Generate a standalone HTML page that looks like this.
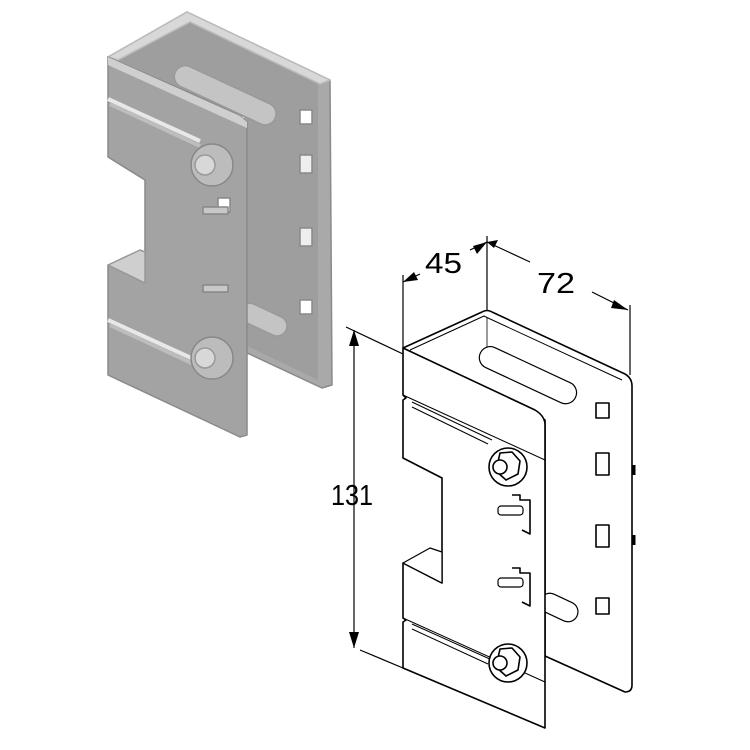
<!DOCTYPE html>
<html><head><style>html,body{margin:0;padding:0;background:#fff;}svg{display:block}</style></head>
<body>
<svg width="750" height="750" viewBox="0 0 750 750" xmlns="http://www.w3.org/2000/svg">
<!-- Left shaded render -->
<g stroke="#8a8a8a" stroke-width="1.5" stroke-linejoin="round">
  <polygon points="187,12 330,80 332,385 322,388 245,352 245,117 108,57" fill="#a9a9a9"/>
  <polygon points="187,18 318,82 318,380 245,345 245,117 118,60" fill="#9e9e9e" stroke="none"/>
  <polygon points="108,57 187,12 330,80 320,84 190,22 118,60" fill="#d8d8d8" stroke="#bbb"/>
  <rect x="180" y="62" width="110" height="22" rx="11" fill="#c4c4c4" transform="rotate(25 180 62)" stroke="#999"/>
  <rect x="245" y="300" width="50" height="20" rx="10" fill="#c4c4c4" transform="rotate(25 245 300)" stroke="#999"/>
  <rect x="300" y="110" width="12" height="14" fill="#fff" stroke="#888"/>
  <rect x="300" y="155" width="12" height="18" fill="#eee" stroke="#888"/>
  <rect x="300" y="228" width="12" height="18" fill="#eee" stroke="#888"/>
  <rect x="300" y="300" width="12" height="14" fill="#fff" stroke="#888"/>
  <!-- front plate -->
  <polygon points="108,57 240,116 247,122 247,435 240,437 108,375 108,265 145,283 145,180 108,157" fill="#a3a3a3"/>
  <polygon points="108,57 240,116 247,122 247,128 108,65" fill="#cfcfcf" stroke="none"/>
  <line x1="108" y1="99" x2="200" y2="141" stroke="#e8e8e8" stroke-width="4"/>
  <line x1="110" y1="104" x2="200" y2="146" stroke="#bdbdbd" stroke-width="4"/>
  <line x1="108" y1="320" x2="200" y2="362" stroke="#e8e8e8" stroke-width="4"/>
  <line x1="110" y1="325" x2="200" y2="367" stroke="#bdbdbd" stroke-width="4"/>
  <polygon points="108,265 140,250 145,252 145,283" fill="#cfcfcf" stroke="#999"/>
  <circle cx="212" cy="165" r="21" fill="#bcbcbc" stroke="#888"/>
  <circle cx="205" cy="165" r="10" fill="#d8d8d8" stroke="#999"/>
  <circle cx="212" cy="358" r="21" fill="#bcbcbc" stroke="#888"/>
  <circle cx="205" cy="358" r="10" fill="#d8d8d8" stroke="#999"/>
  <rect x="218" y="198" width="12" height="14" fill="#fff" stroke="#888"/>
  <rect x="203" y="207" width="25" height="7" fill="#c8c8c8" stroke="#888"/>
  <rect x="203" y="285" width="25" height="7" fill="#c8c8c8" stroke="#888"/>
</g>

<!-- Right line drawing -->
<g fill="#fff" stroke="#000" stroke-width="1.6" stroke-linejoin="round">
  <path d="M403,348 L482,312 Q487,309 492,312 L625,374 Q632,378 632,386 L632,685 Q632,692 625,692 L545,656 L545,420 Z"/>
  <path d="M410,350 L484,316 L488,318 L622,380" fill="none" stroke-width="1"/>
  <line x1="487" y1="318" x2="487" y2="355" stroke-width="0.8"/>
  <rect x="485" y="343" width="105" height="22" rx="11" transform="rotate(25 485 343)" stroke-width="1.2"/>
  <rect x="545" y="590" width="40" height="20" rx="10" transform="rotate(25 545 590)" stroke-width="1.2"/>
  <rect x="596" y="403" width="13" height="15"/>
  <rect x="596" y="453" width="13" height="22"/>
  <rect x="596" y="525" width="13" height="22"/>
  <rect x="596" y="598" width="13" height="16"/>
  <line x1="634" y1="465" x2="634" y2="475" stroke-width="3"/>
  <line x1="634" y1="535" x2="634" y2="545" stroke-width="3"/>
  <path d="M403,348 L535,410 Q545,416 545,425 L545,728 L403,668 L403,622 L406,620 L403,618 L403,563 L442,583 L442,478 L403,458 L403,400 L406,398 L403,395 Z"/>
  <line x1="403" y1="395" x2="545" y2="460" stroke-width="1"/>
  <line x1="403" y1="618" x2="545" y2="682" stroke-width="1"/>
  <polygon points="403,563 430,548 442,552 442,583" stroke-width="1.2"/>
  <line x1="412" y1="402" x2="492" y2="440" stroke-width="1"/>
  <line x1="412" y1="407" x2="488" y2="444" stroke-width="1"/>
  <line x1="412" y1="624" x2="492" y2="660" stroke-width="1"/>
  <line x1="412" y1="629" x2="488" y2="664" stroke-width="1"/>
  <circle cx="508" cy="467" r="19"/>
  <polygon points="500,453 512,452 520,461 518,474 506,480 496,471"/>
  <circle cx="500" cy="467" r="7"/>
  <circle cx="508" cy="663" r="19"/>
  <polygon points="500,649 512,648 520,657 518,670 506,676 496,667"/>
  <circle cx="500" cy="663" r="7"/>
  <path d="M512,495 L520,495 L520,500 L530,500 L530,534 L522,530" fill="none"/>
  <rect x="498" y="506" width="25" height="9" rx="3" stroke-width="1.2"/>
  <path d="M512,568 L520,568 L520,573 L530,573 L530,606 L522,602" fill="none"/>
  <rect x="498" y="578" width="25" height="9" rx="3" stroke-width="1.2"/>
</g>

<g stroke="#000" stroke-width="1.2" fill="none">
  <line x1="346" y1="327" x2="403" y2="354"/>
  <line x1="360" y1="650" x2="403" y2="668"/>
  <line x1="354" y1="330" x2="354" y2="648"/>
  <line x1="403" y1="275" x2="403" y2="348"/>
  <line x1="487" y1="236" x2="487" y2="310"/>
  <line x1="403" y1="282" x2="420" y2="274"/>
  <line x1="470" y1="250" x2="487" y2="242"/>
  <line x1="487" y1="242" x2="530" y2="262"/>
  <line x1="592" y1="292" x2="628" y2="310"/>
  <line x1="630" y1="305" x2="630" y2="375"/>
</g>
<g fill="#000">
  <polygon points="354,330 349,346 359,346"/>
  <polygon points="354,648 349,632 359,632"/>
  <polygon points="403,282 414,272 418,280"/>
  <polygon points="487,242 473,246 477,254"/>
  <polygon points="487,242 498,240 494,248"/>
  <polygon points="628,310 614,300 611,308"/>
</g>
<g font-family="Liberation Sans Narrow, Liberation Sans, sans-serif" font-size="29" fill="#000">
  <text x="425" y="273" textLength="37" lengthAdjust="spacingAndGlyphs">45</text>
  <text x="537" y="293" textLength="38" lengthAdjust="spacingAndGlyphs">72</text>
  <text x="331" y="505" textLength="42" lengthAdjust="spacingAndGlyphs">131</text>
</g>
</svg>
</body></html>
